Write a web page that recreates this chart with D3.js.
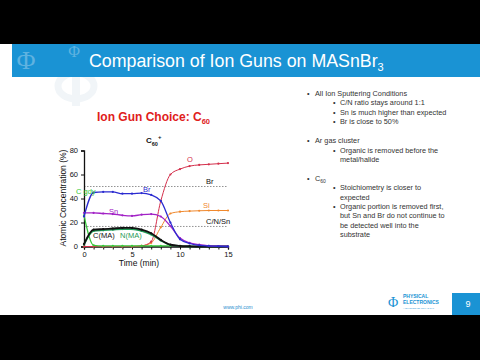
<!DOCTYPE html>
<html>
<head>
<meta charset="utf-8">
<script src="https://cdn.jsdelivr.net/npm/d3@7"></script>
<style>
  html, body { margin: 0; padding: 0; background: #000; }
  svg { display: block; font-family: "Liberation Sans", Arial, sans-serif; }
</style>
</head>
<body>
<svg id="slide" width="480" height="360"></svg>
<script>
// depth profile, C60+ sputtering of MASnBr3
var times = [0, 1, 2, 3, 4, 5, 6, 7, 8, 9, 10, 11, 12, 13, 14, 15];
var brVals = [25, 45, 45.5, 45.5, 44, 44, 44.5, 43, 38, 20, 6, 2.5, 1, 0.5, 0.2, 0];
var snVals = [28, 28, 27.5, 27, 26, 25.5, 26.5, 27, 25, 17, 7, 3, 1.5, 0.6, 0.2, 0];
var oVals = [0, 0, 0, 0, 0, 0, 0.5, 4, 38, 60, 64.5, 67, 68, 68.5, 69, 69.5];
var siVals = [0, 0, 0, 0, 0, 0, 0.5, 3, 16, 27.5, 29, 29.5, 29.8, 30, 30, 30];
var cgdyVals = [26, 1, 0.5, 0.5, 0.5, 0.5, 0.5, 0.5, 0.5, 0.5];
var cmaVals = [2, 14, 14.5, 15, 15.5, 15.5, 14, 11, 5.5, 1.5, 0.5, 0.2, 0, 0, 0, 0];
var nmaVals = [1.5, 13, 13.5, 14, 14.5, 14.5, 13, 10, 5, 1.2, 0.4, 0.1, 0, 0, 0, 0];

var refVals = [50, 16.7];
var xTicks = [0, 5, 10, 15];
var yTicks = [0, 20, 40, 60, 80];

var bullets = [
    { lvl: 0, text: "All Ion Sputtering Conditions" },
    { lvl: 1, text: "C/N ratio stays around 1:1" },
    { lvl: 1, text: "Sn is much higher than expected" },
    { lvl: 1, text: "Br is close to 50%" },
    { lvl: 0, text: "Ar gas cluster", gap: true },
    { lvl: 1, text: "Organic is removed before the" },
    { lvl: 1, text: "metal/halide", cont: true },
    { lvl: 0, text: "C", sub: "60", gap: true },
    { lvl: 1, text: "Stoichiometry is closer to" },
    { lvl: 1, text: "expected", cont: true },
    { lvl: 1, text: "Organic portion is removed first," },
    { lvl: 1, text: "but Sn and Br do not continue to", cont: true },
    { lvl: 1, text: "be detected well into the", cont: true },
    { lvl: 1, text: "substrate", cont: true }
];

var svg = d3.select("#slide");

// slide body
svg.append("rect").attr("x", 0).attr("y", 44).attr("width", 480).attr("height", 271).attr("fill", "#fff");

// faint watermark (phi shape)
svg.append("ellipse").attr("cx", 76).attr("cy", 86).attr("rx", 18).attr("ry", 13)
    .attr("fill", "none").attr("stroke", "#f1f5f8").attr("stroke-width", 7);
svg.append("rect").attr("x", 72).attr("y", 64).attr("width", 8).attr("height", 42).attr("fill", "#f1f5f8");

// header
svg.append("rect").attr("x", 12).attr("y", 44).attr("width", 468).attr("height", 33).attr("fill", "#1a93d4");
svg.append("text").attr("x", 26).attr("y", 69).attr("text-anchor", "middle")
    .attr("font-size", 26).attr("fill", "#5fb2e0").attr("font-family", "Liberation Serif, serif").text("\u03A6");
svg.append("text").attr("x", 74).attr("y", 57).attr("text-anchor", "middle")
    .attr("font-size", 16).attr("fill", "#5fb2e0").attr("font-family", "Liberation Serif, serif").text("\u03A6");
var head = svg.append("text").attr("x", 89).attr("y", 67).attr("font-size", 17.8).attr("fill", "#fff");
head.append("tspan").text("Comparison of Ion Guns on MASnBr");
head.append("tspan").attr("font-size", 11).attr("dy", 4).text("3");

// chart title
var ct = svg.append("text").attr("x", 97).attr("y", 121).attr("font-size", 12)
    .attr("font-weight", "bold").attr("fill", "#e0201b");
ct.append("tspan").text("Ion Gun Choice: C");
ct.append("tspan").attr("font-size", 7.5).attr("dy", 3).text("60");

var st = svg.append("text").attr("x", 146).attr("y", 143).attr("font-size", 8)
    .attr("font-weight", "bold").attr("fill", "#111");
st.append("tspan").text("C");
st.append("tspan").attr("font-size", 5.5).attr("dy", 2.5).text("60");
st.append("tspan").attr("font-size", 6).attr("dy", -7).text("+");

// plot
var x = d3.scaleLinear().domain([0, 15]).range([84, 228]);
var y = d3.scaleLinear().domain([0, 80]).range([246.5, 150.5]);

var g = svg.append("g");

g.selectAll("line.ref").data(refVals).enter().append("line")
    .attr("class", "ref")
    .attr("x1", x(0)).attr("x2", x(15))
    .attr("y1", function (d) { return y(d); }).attr("y2", function (d) { return y(d); })
    .attr("stroke", "#777").attr("stroke-width", 0.8).attr("stroke-dasharray", "1.5,1.5");

var xAxis = g.append("g").attr("transform", "translate(0," + y(0) + ")")
    .call(d3.axisBottom(x).tickValues(times).tickSize(3).tickPadding(2)
        .tickFormat(function (d) { return xTicks.indexOf(d) >= 0 ? d : ""; }));
var yAxis = g.append("g").attr("transform", "translate(" + x(0) + ",0)")
    .call(d3.axisLeft(y).tickValues(yTicks).tickSize(3));
[xAxis, yAxis].forEach(function (a) {
    a.select(".domain").attr("stroke", "#111").attr("stroke-width", 1.3);
    a.selectAll(".tick line").attr("stroke", "#111").attr("stroke-width", 1);
    a.selectAll("text").attr("font-size", 7.5).attr("fill", "#111").attr("font-family", "Liberation Sans, Arial, sans-serif");
});

g.append("text").attr("x", 139).attr("y", 266).attr("text-anchor", "middle")
    .attr("font-size", 8.5).attr("fill", "#111").text("Time (min)");
g.append("text").attr("transform", "translate(66,198) rotate(-90)").attr("text-anchor", "middle")
    .attr("font-size", 8.5).attr("fill", "#111").text("Atomic Concentration (%)");

var series = [
    { vals: siVals, color: "#f0892e", w: 1 },
    { vals: oVals, color: "#d4304c", w: 1 },
    { vals: cgdyVals, color: "#35c83a", w: 1.2 },
    { vals: nmaVals, color: "#1f9a55", w: 1.6 },
    { vals: cmaVals, color: "#111", w: 1.8 },
    { vals: snVals, color: "#a222c6", w: 1.3 },
    { vals: brVals, color: "#2b2bd0", w: 1.3 }
];

var line = d3.line()
    .x(function (d, i) { return x(times[i]); })
    .y(function (d) { return y(d); })
    .curve(d3.curveMonotoneX);

series.forEach(function (s) {
    g.append("path").datum(s.vals).attr("d", line)
        .attr("fill", "none").attr("stroke", s.color).attr("stroke-width", s.w);
    g.selectAll(null).data(s.vals).enter().append("circle")
        .attr("cx", function (d, i) { return x(times[i]); })
        .attr("cy", function (d) { return y(d); })
        .attr("r", 1.1).attr("fill", s.color);
});

var labels = [
    { t: "O", x: 187, y: 162, c: "#d4304c" },
    { t: "Br", x: 206, y: 184, c: "#111" },
    { t: "Br", x: 143, y: 192, c: "#2b2bd0" },
    { t: "Si", x: 203, y: 208, c: "#f0892e" },
    { t: "C/N/Sn", x: 206, y: 224, c: "#111" },
    { t: "Sn", x: 109, y: 214, c: "#a222c6" },
    { t: "C gdy", x: 76, y: 194, c: "#35c83a" },
    { t: "C(MA)", x: 93, y: 238, c: "#111" },
    { t: "N(MA)", x: 120, y: 238, c: "#1f9a55" }
];
g.selectAll("text.lbl").data(labels).enter().append("text")
    .attr("class", "lbl")
    .attr("x", function (d) { return d.x; }).attr("y", function (d) { return d.y; })
    .attr("font-size", 7.5).attr("fill", function (d) { return d.c; })
    .text(function (d) { return d.t; });

// bullets
var by = 96, tg = svg.append("g").attr("fill", "#333").attr("font-size", 7.3);
bullets.forEach(function (b) {
    if (b.gap) by += 9.5;
    var bx = b.lvl ? 333 : 307, tx = b.lvl ? 340 : 315;
    if (!b.cont) tg.append("text").attr("x", bx).attr("y", by).text("\u2022");
    var t = tg.append("text").attr("x", tx).attr("y", by).text(b.text);
    if (b.sub) t.append("tspan").attr("font-size", 5).attr("dy", 2).text(b.sub);
    by += 9.4;
});

// footer
svg.append("text").attr("x", 238).attr("y", 309).attr("text-anchor", "middle")
    .attr("font-size", 5).attr("fill", "#2a8fcf").text("www.phi.com");
svg.append("text").attr("x", 393).attr("y", 307).attr("text-anchor", "middle")
    .attr("font-size", 14).attr("fill", "#1a93d4").attr("font-family", "Liberation Serif, serif").text("\u03A6");
svg.append("text").attr("x", 403).attr("y", 298).attr("font-size", 5).attr("font-weight", "bold")
    .attr("fill", "#1a93d4").text("PHYSICAL");
svg.append("text").attr("x", 403).attr("y", 304).attr("font-size", 5).attr("font-weight", "bold")
    .attr("fill", "#1a93d4").text("ELECTRONICS");
svg.append("text").attr("x", 403).attr("y", 309).attr("font-size", 2.5)
    .attr("fill", "#1a93d4").text("A DIVISION OF ULVAC-PHI");
svg.append("rect").attr("x", 452).attr("y", 293).attr("width", 28).attr("height", 22).attr("fill", "#1a93d4");
svg.append("text").attr("x", 468).attr("y", 307).attr("text-anchor", "middle")
    .attr("font-size", 9).attr("fill", "#fff").text("9");
</script>
</body>
</html>
